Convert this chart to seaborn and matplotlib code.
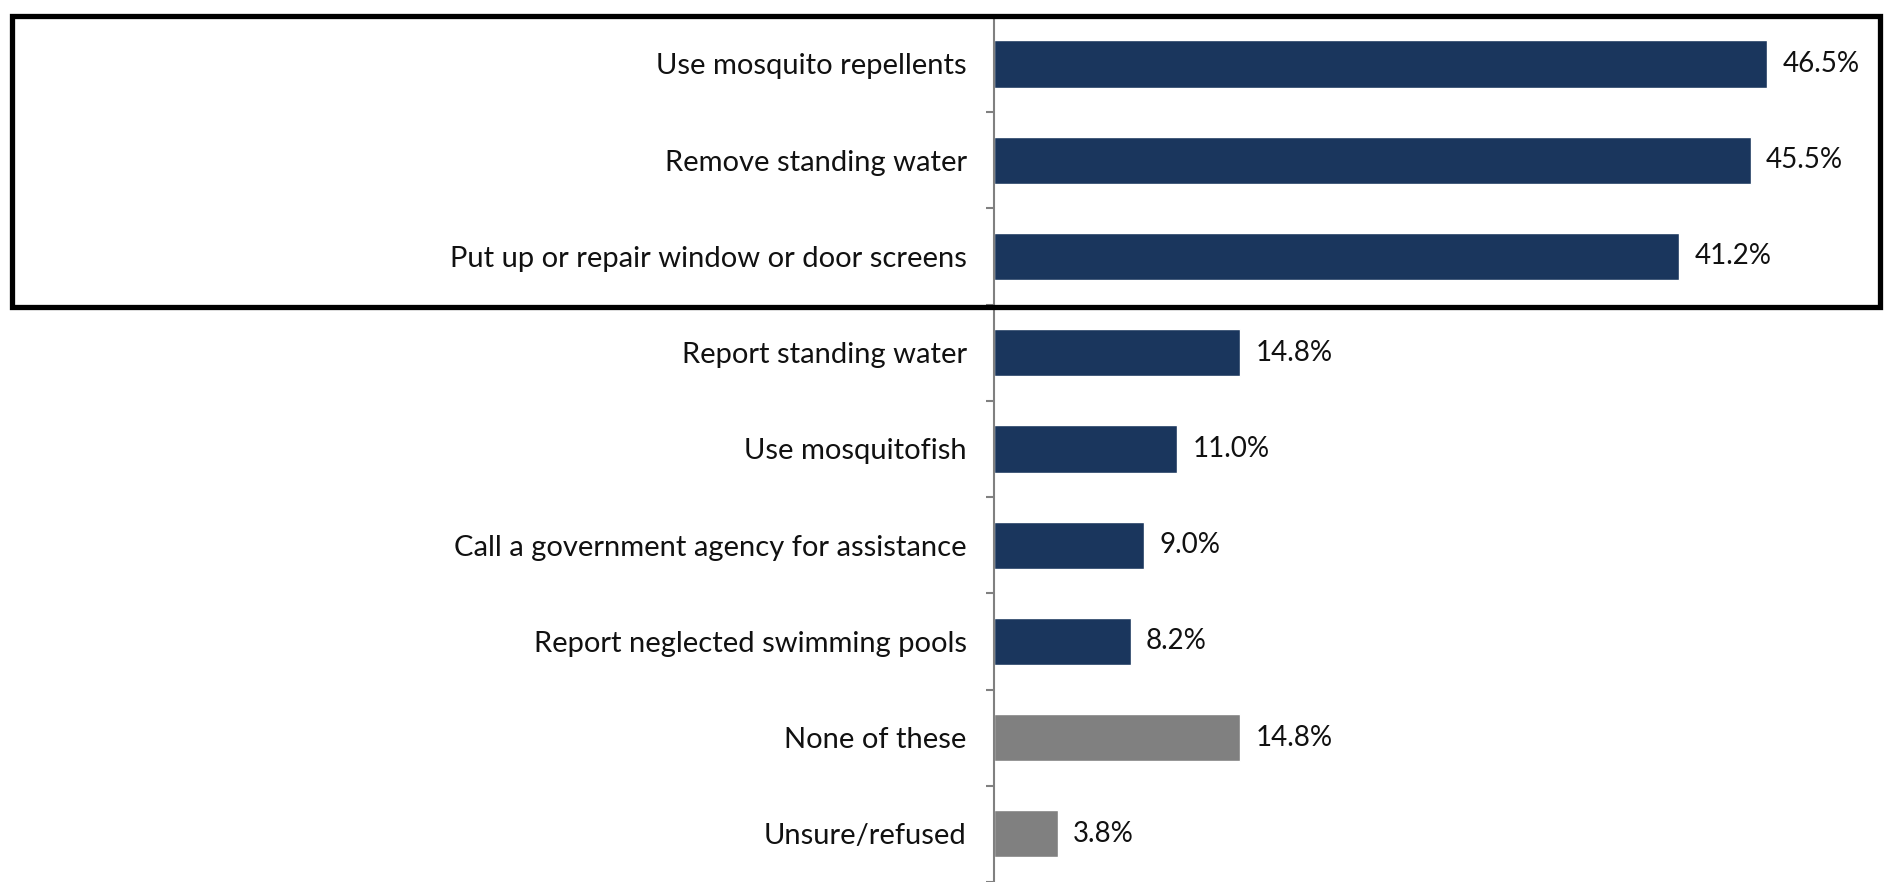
import pandas as pd
import numpy as np
import matplotlib
matplotlib.use("Agg")
import matplotlib.pyplot as plt
import seaborn as sb
from matplotlib.patches import Rectangle


# Data
actions = [
    "Use mosquito repellents",
    "Remove standing water",
    "Put up or repair window or door screens",
    "Report standing water",
    "Use mosquitofish",
    "Call a government agency for assistance",
    "Report neglected swimming pools",
    "None of these",
    "Unsure/refused",
]
percent = [46.5, 45.5, 41.2, 14.8, 11.0, 9.0, 8.2, 14.8, 3.8]
groups = ["action"] * 7 + ["other"] * 2

navy = "#1a365d"
grey = "#808080"
group_colors = {"action": navy, "other": grey}

df = pd.DataFrame({"action": actions, "percent": percent, "group": groups})


# Plot
sb.set_style("white")
plt.rcParams["font.family"] = ["Lato", "DejaVu Sans"]

fig = plt.figure(figsize=(18.87, 8.82), dpi=100)
ax = fig.add_axes([0.527, 0.0, 0.473, 0.982])

sb.barplot(
    data=df,
    x="percent",
    y="action",
    hue="action",
    palette=[group_colors[g] for g in groups],
    saturation=1,
    width=0.49,
    legend=False,
    ax=ax,
)

for cont in ax.containers:
    ax.bar_label(cont, fmt="%.1f%%", padding=11, fontsize=20, color="#111111")

ax.set_xlim(0, 53.7)
ax.set_ylim(len(actions) - 0.5, -0.5)
ax.set_xlabel("")
ax.set_ylabel("")
ax.set_xticks([])

# labels at bar centres, small tick marks between the bars
ax.set_yticks(np.arange(len(actions)))
ax.set_yticklabels(actions, fontsize=21, color="#111111")
ax.tick_params(axis="y", which="major", length=0, pad=20)
ax.set_yticks(np.arange(len(actions) + 1) - 0.5, minor=True)
ax.tick_params(axis="y", which="minor", length=6, width=1.5, color=grey, left=True)

for side in ["top", "right", "bottom"]:
    ax.spines[side].set_visible(False)
ax.spines["left"].set_color(grey)
ax.spines["left"].set_linewidth(1.5)

# highlight box round the three top answers
fig.patches.append(Rectangle(
    (12 / 1887, 1 - 307 / 882), (1880 - 12) / 1887, (307 - 16) / 882,
    transform=fig.transFigure, fill=False, edgecolor="black", linewidth=3.8,
    zorder=10,
))

plt.savefig("out.png", dpi=100)
